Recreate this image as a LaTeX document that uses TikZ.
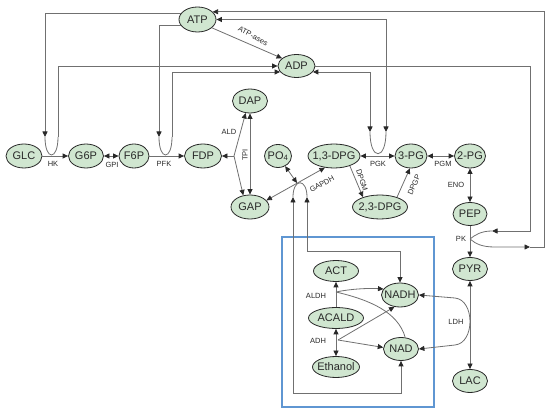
\documentclass[tikz,border=0pt]{standalone}
\usepackage{fontspec}
\setmainfont{Liberation Sans}
\usetikzlibrary{shapes.geometric,arrows.meta}
\definecolor{nodegreen}{RGB}{208,230,208}
\definecolor{linegray}{RGB}{112,112,112}
\definecolor{boxblue}{RGB}{95,150,210}
\definecolor{edgedark}{RGB}{40,40,40}
\tikzset{
  mytip/.tip={Triangle[length=5.5pt,width=5pt,color=edgedark]},
  met/.style={ellipse, draw=edgedark, fill=nodegreen, line width=0.8pt, inner sep=0pt, inner xsep=-6pt,
    font=\fontsize{11}{13}\selectfont, text=edgedark},
  lbl/.style={font=\fontsize{7.5}{8}\selectfont, text=edgedark, inner sep=0pt},
  ln/.style={draw=linegray, line width=0.8pt},
  arr/.style={ln, -mytip},
  darr/.style={ln, mytip-mytip},
}
\begin{document}
\begin{tikzpicture}[x=1pt,y=-1pt]
\useasboundingbox (0,0) rectangle (550,414);
% blue box
\draw[boxblue, line width=1.2pt] (282,237) rectangle (434,407);
% nodes
\node[met, minimum width=37pt, minimum height=25pt] (ATP) at (197.5,19.5) {ATP};
\node[met, minimum width=37pt, minimum height=23pt] (ADP) at (296.5,66) {ADP};
\node[met, minimum width=36pt, minimum height=24pt] (GLC) at (24,156) {GLC};
\node[met, minimum width=35pt, minimum height=24pt] (G6P) at (86,156) {G6P};
\node[met, minimum width=30pt, minimum height=24pt] (F6P) at (134,156) {F6P};
\node[met, minimum width=37pt, minimum height=24pt] (FDP) at (203,156) {FDP};
\node[met, minimum width=35pt, minimum height=24pt] (DAP) at (250,101) {DAP};
\node[met, minimum width=38pt, minimum height=24pt] (GAP) at (250,207) {GAP};
\node[met, minimum width=27pt, minimum height=23pt] (PO4) at (278,156) {PO\textsubscript{4}};
\node[met, minimum width=52pt, minimum height=24pt] (DPG13) at (334,156) {1,3-DPG};
\node[met, minimum width=32pt, minimum height=24pt] (PG3) at (411,156) {3-PG};
\node[met, minimum width=31pt, minimum height=24pt] (PG2) at (470,156) {2-PG};
\node[met, minimum width=55pt, minimum height=24pt] (DPG23) at (380,207) {2,3-DPG};
\node[met, minimum width=34pt, minimum height=23pt] (PEP) at (470,214) {PEP};
\node[met, minimum width=35pt, minimum height=23pt] (PYR) at (470,269) {PYR};
\node[met, minimum width=35pt, minimum height=23pt] (LAC) at (470,381) {LAC};
\node[met, minimum width=45pt, minimum height=21pt] (ACT) at (336,271) {ACT};
\node[met, minimum width=37pt, minimum height=24pt] (NADH) at (400,295) {NADH};
\node[met, minimum width=55pt, minimum height=21pt] (ACALD) at (336,318) {ACALD};
\node[met, minimum width=35pt, minimum height=23pt] (NAD) at (401,349) {NAD};
\node[met, minimum width=47pt, minimum height=21pt] (EtOH) at (336,367) {Ethanol};
% labels
\node[lbl] (lHK) at (53,164) {HK};
\node[lbl] (lGPI) at (112,165) {GPI};
\node[lbl] (lPFK) at (164,164) {PFK};
\node[lbl] (lALD) at (229,132) {ALD};
\node[lbl, rotate=90] (lTPI) at (245,155) {TPI};
\node[lbl, rotate=-28] (lATPase) at (253,36) {ATP-ases};
\node[lbl, rotate=29] (lGAPDH) at (322,184) {GAPDH};
\node[lbl] (lPGK) at (378,164) {PGK};
\node[lbl, rotate=-72] (lDPGM) at (362,180) {DPGM};
\node[lbl, rotate=66] (lDPGP) at (414,185) {DPGP};
\node[lbl] (lPGM) at (443,164) {PGM};
\node[lbl] (lENO) at (456,185) {ENO};
\node[lbl] (lPK) at (461,239) {PK};
\node[lbl] (lALDH) at (316,296) {ALDH};
\node[lbl] (lADH) at (318,341) {ADH};
\node[lbl] (lLDH) at (456,322) {LDH};
% coordinates
\coordinate (hkL) at (45,137);
\coordinate (hkR) at (58,137);
\coordinate (pfkL) at (159,137);
\coordinate (pfkR) at (172,137);
\coordinate (pgkL) at (370,132);
\coordinate (pgkR) at (386,132);
\coordinate (aldJ) at (234,156);
\coordinate (gj) at (297,183);
\coordinate (gL) at (293,197);
\coordinate (gR) at (307,197);
\coordinate (aj) at (336,292);
\coordinate (adj) at (338,340);
\coordinate (pkJ) at (470,239);
\coordinate (pkin) at (492,231);
\coordinate (adpR) at (530,231);
\coordinate (pkout) at (530,247);
% main chain
\draw[arr] (GLC) -- (G6P);
\draw[darr] (G6P) -- (F6P);
\draw[arr] (F6P) -- (FDP);
% HK
\draw[arr] (ATP.160) -| (hkL);
\draw[ln] (hkL) .. controls (45,161) and (58,161) .. (hkR);
\draw[arr] (hkR) |- (ADP.west);
% PFK
\draw[arr] (ATP.200) -| (pfkL);
\draw[ln] (pfkL) .. controls (159,161) and (172,161) .. (pfkR);
\draw[arr] (pfkR) |- (ADP.200);
% ATPases
\draw[arr] (ATP.-30) -- (ADP.152);
% ALD, TPI
\draw[arr] (aldJ) -- (FDP.east);
\draw[arr] (aldJ) -- (DAP.250);
\draw[arr] (aldJ) -- (GAP.120);
\draw[darr] (DAP) -- (GAP);
% GAPDH
\draw[darr] (GAP.22) -- (DPG13.232);
\draw[darr] (PO4) -- (gj);
\draw[ln] (gL) .. controls (293,178) and (307,178) .. (gR);
\draw[darr] (NAD.south) |- (293,393) -- (gL);
\draw[darr] (NADH.north) |- (307,251) -- (gR);
% PGK
\draw[darr] (DPG13) -- (PG3);
\draw[darr] (ADP.-20) -| (pgkL);
\draw[darr] (ATP.east) -| (pgkR);
\draw[ln] (pgkL) .. controls (370,161) and (386,161) .. (pgkR);
% DPGM, DPGP
\draw[arr] (DPG13.-32) -- (DPG23.150);
\draw[arr] (DPG23.30) -- (PG3.265);
% PGM, ENO, PK
\draw[darr] (PG3) -- (PG2);
\draw[darr] (PG2) -- (PEP);
\draw[arr] (PEP) -- (PYR);
\draw[arr] (ADP.east) -| (adpR) -- (pkin);
\draw[ln] (pkin) .. controls (481,231) and (475,235) .. (pkJ);
\draw[arr] (pkJ) .. controls (476,244) and (482,247) .. (495,247) -- (pkout);
\draw[arr] (pkout) -- (544,247) |- (ATP.27);
% LDH
\draw[darr] (PYR) -- (LAC);
\draw[darr] (NADH.east) -- (455,298) .. controls (475,300) and (475,343) .. (455,345) -- (NAD.east);
% ALDH
\draw[arr] (ACALD) -- (ACT);
\draw[arr] (aj) .. controls (350,289) and (368,288) .. (NADH.160);
\draw[ln] (aj) .. controls (370,300) and (398,312) .. (NAD.70);
% ADH
\draw[darr] (ACALD) -- (EtOH);
\draw[arr] (adj) -- (NADH.245);
\draw[arr] (adj) -- (NAD.175);
\end{tikzpicture}
\end{document}
